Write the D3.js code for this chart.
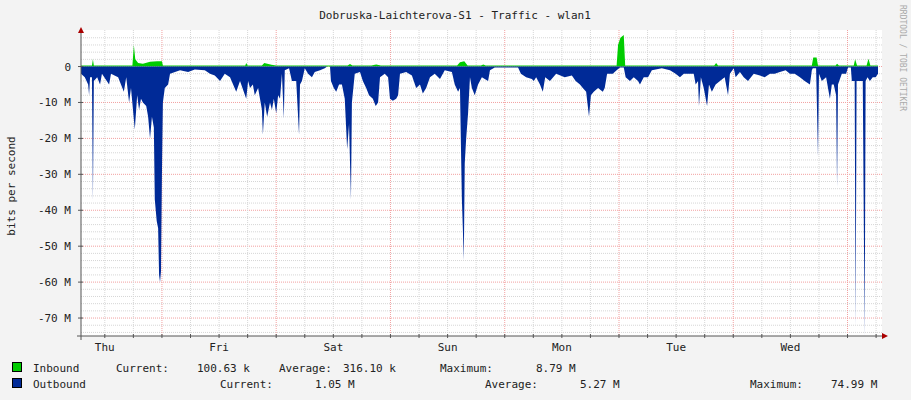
<!DOCTYPE html>
<html><head><meta charset="utf-8">
<script src="https://cdn.jsdelivr.net/npm/d3@7"></script>
<style>body{margin:0;background:#f3f3f3}text{font-family:"DejaVu Sans Mono",monospace}</style>
</head><body><svg id="c" width="911" height="400"></svg>
<script>
// hours since Thu 07:00, Mbps
const outTimes = [0,0.8,1.5,1.7,1.9,2.3,2.5,2.7,3.4,4.0,4.4,5.9,6.3,7.8,9.0,9.5,10.1,10.5,11.3,11.8,12.2,12.6,13.0,13.7,14.1,14.5,14.9,15.3,15.5,15.9,16.2,16.4,16.6,16.8,17.0,17.2,17.6,18.3,18.7,20.8,22.5,23.9,26,27.1,28.1,29.2,30.2,31.3,32.6,33.4,34.7,35.1,35.5,36.1,36.5,37.2,38.0,38.2,38.6,39.1,39.7,40.1,40.5,41.0,41.4,41.8,42.2,42.6,42.8,43.7,44.3,45.2,45.8,46.0,46.4,47,47.7,48.5,49.1,50.2,51.2,51.7,52.3,52.5,53.1,53.6,54.2,54.8,55.4,55.9,56.3,56.7,56.9,57.5,58.6,59.2,59.9,60.5,61.3,61.9,62.4,62.8,63.8,64.5,64.9,65.5,66.2,66.6,67.0,68.3,69.5,70.4,71.2,71.8,72.5,73.3,74.3,75.4,76.4,77.9,78.5,79.2,79.6,79.8,80.0,80.2,80.4,80.6,80.9,81.3,81.7,82.1,82.7,83.4,84.2,85.5,85.9,86.9,91.8,92.4,93.5,94.7,95.1,95.6,96.4,97.0,97.5,98.5,99.8,101.6,103.1,103.9,104.8,105.4,106.1,106.7,107.1,107.7,108.6,109.6,110,110.5,111.7,112.5,113.2,114,114.4,115.3,116.1,117,117.4,118.2,119.1,119.9,122,123.7,124.9,125.8,126.6,127.9,128.7,129.1,129.6,129.8,130.2,130.8,131.5,131.9,132.5,133.3,134.2,135.2,135.9,136.3,137.1,137.5,138.4,139.2,140.1,141.3,142.6,143.6,144.7,145.7,146.8,148,148.9,149.9,151,152,153.1,153.5,153.7,154.4,154.8,155,155.6,156.5,157.3,157.7,158.1,158.6,158.8,159,159.8,160.7,161.1,161.7,161.9,162.5,162.7,162.9,163.6,164.2,164.6,164.8,165.2,165.7,166.3,166.9,167.4];
const outValues = [2,3,5,8,3,3,37.5,4,3,5,2,5,2,3,7,3,10,6,17.5,8,12,9,10,11,14,20,14,17,37,43,45,58,60,57,30,10,6,5,2,1,1.5,0.8,1,2,2.5,4,2,3,7,4,9,4,6,5,8,6,12,19,10,14,10,12,9,13,8,9,2,14.5,1,0.5,4,4,19,5,4,0.5,2,3,1.5,1,0.5,0,0,4,6,7,5,5,9,23,16,37,10,2,1.5,4,6,8,9,11,10,3,2,3,9,9.5,9,8,2,1.5,2.5,6,5,7.5,6,3,2,3.5,1,1.5,5,7,6,22,37,45,54,27,20,13,3,6,8,5,3,4,1,0.3,0.3,2,3,3.5,4,3,5,7,3,4,2,3,2.5,4,5,6,7,14,8,7,6,7,6,2,2,1,0.3,0.3,3,4,3,4,5,3,3,1,0.5,1,2,3,2,2,2,5,4,11,3,6,11,5,7,5,4,3,8,2,0.5,3,1.5,3,4,2,2.5,3,2,2,1.5,1,2,2,3,4,5,1,0.5,0.5,25,2,4,3,9,5,5,8,33.5,5,2,2,0.3,0.3,4,4,72,4,4,4,75,4,3,4,3,3,2];
const inTimes = [0,2.3,2.5,2.7,10.8,11.1,11.4,12,13,14.5,16,17,17.2,34.5,34.7,35,38,38.5,40,41,56,56.5,57,61,62,63,79,79.6,80.5,81.2,84,84.5,85,112.5,112.8,113.3,114,114.3,133,133.4,133.8,153.5,153.8,154.5,154.8,158.5,158.8,159.2,162.3,162.6,163,165,165.4,165.8,167.4];
const inValues = [0.3,0.3,2,0.3,0.3,6,2,1,0.8,1.3,1.5,1.5,0.3,0.3,1,0.3,0.3,1,0.5,0.3,0.3,0.7,0.3,0.3,0.6,0.3,0.3,1.2,1.5,0.3,0.3,0.6,0.3,0.3,6,8,8.8,0.3,0.3,1,0.3,0.3,2.5,2.5,0.3,0.3,0.8,0.3,0.3,2,0.3,0.3,2.2,0.3,0.3];
const dayLabels = ['Thu','Fri','Sat','Sun','Mon','Tue','Wed'];
const yTicks = [0,-10,-20,-30,-40,-50,-60,-70];
const legendRows = [
  {name:'Inbound', color:'#00cc00', cur:'100.63 k', avg:'316.10 k', max:'8.79 M'},
  {name:'Outbound', color:'#002a97', cur:'1.05 M', avg:'5.27 M', max:'74.99 M'}
];

const svg = d3.select('#c');
const L = 81, R = 878, T = 36, B = 336;
const x = d3.scaleLinear().domain([0, 167.4]).range([L, R]);
const y = d3.scaleLinear().domain([-75, 8.5]).range([B, T]);

svg.append('rect').attr('width', 911).attr('height', 400).attr('fill', '#f3f3f3');
svg.append('rect').attr('x', L).attr('y', T - 6).attr('width', R - L + 4).attr('height', B - T + 6).attr('fill', '#fff');

// horizontal grid
for (let v = -74; v <= 8; v += 2) {
  const major = v % 10 === 0;
  svg.append('line').attr('x1', L).attr('x2', R + 4).attr('y1', y(v)).attr('y2', y(v))
    .attr('stroke', major ? '#f2a0a0' : '#d6d6d6').attr('stroke-dasharray', '1,1');
}
// vertical grid every 6h, red at midnight
for (let h = 5; h < 167.4; h += 6) {
  const major = (h - 17) % 24 === 0;
  svg.append('line').attr('x1', x(h)).attr('x2', x(h)).attr('y1', T - 6).attr('y2', B)
    .attr('stroke', major ? '#f2a0a0' : '#d6d6d6').attr('stroke-dasharray', '1,1');
}

const inData = inTimes.map((t, i) => [t, inValues[i]]);
const outData = outTimes.map((t, i) => [t, outValues[i]]);

svg.append('path').datum(inData)
  .attr('d', d3.area().x(d => x(d[0])).y0(y(0)).y1(d => y(d[1])))
  .attr('fill', '#00cc00');
svg.append('path').datum(outData)
  .attr('d', d3.area().x(d => x(d[0])).y0(y(0)).y1(d => y(-d[1])))
  .attr('fill', '#002a97');

// axes
svg.append('line').attr('x1', L).attr('x2', L).attr('y1', 30).attr('y2', B + 4).attr('stroke', '#555');
svg.append('line').attr('x1', L - 4).attr('x2', R + 6).attr('y1', B).attr('y2', B).attr('stroke', '#555');
svg.append('path').attr('d', `M${L - 3},${33}L${L + 3},${33}L${L},${27}Z`).attr('fill', '#a00');
svg.append('path').attr('d', `M${R + 4},${B - 3}L${R + 4},${B + 3}L${R + 10},${B}Z`).attr('fill', '#a00');

yTicks.forEach(v => {
  svg.append('line').attr('x1', L - 3).attr('x2', L + 2).attr('y1', y(v)).attr('y2', y(v)).attr('stroke', '#555');
  svg.append('text').attr('x', 71).attr('y', y(v) + 4).attr('text-anchor', 'end')
    .attr('font-size', 11).attr('fill', '#222').attr('xml:space', 'preserve')
    .text(v === 0 ? '0' : `${v} M`.replace('-', '-'));
});
for (let h = 5; h < 167.4; h += 6) {
  svg.append('line').attr('x1', x(h)).attr('x2', x(h)).attr('y1', B - 2).attr('y2', B + 2).attr('stroke', '#555');
}
dayLabels.forEach((d, i) => {
  svg.append('text').attr('x', x(5 + 24 * i)).attr('y', 351).attr('text-anchor', 'middle')
    .attr('font-size', 11).attr('fill', '#222').text(d);
});

svg.append('text').attr('x', 455).attr('y', 19).attr('text-anchor', 'middle')
  .attr('font-size', 11).attr('fill', '#222').text('Dobruska-Laichterova-S1 - Traffic - wlan1');
svg.append('text').attr('transform', 'translate(15,186) rotate(-90)').attr('text-anchor', 'middle')
  .attr('font-size', 11).attr('fill', '#222').text('bits per second');
svg.append('text').attr('transform', 'translate(900,5) rotate(90)').attr('font-size', 8)
  .attr('fill', '#aaa').text('RRDTOOL / TOBI OETIKER');

// legend
const cols = [[116, 197, 279, 343, 440, 536], [220, 315, 485, 580, 750, 831]];
legendRows.forEach((r, i) => {
  const by = 372 + i * 16;
  svg.append('rect').attr('x', 12.5).attr('y', by - 9.5).attr('width', 9).attr('height', 9)
    .attr('fill', r.color).attr('stroke', '#000');
  svg.append('text').attr('x', 33).attr('y', by).attr('font-size', 11).attr('fill', '#222').text(r.name);
  const c = cols[i];
  const parts = ['Current:', r.cur, 'Average:', r.avg, 'Maximum:', r.max];
  parts.forEach((p, j) => {
    svg.append('text').attr('x', c[j]).attr('y', by).attr('font-size', 11).attr('fill', '#222').text(p);
  });
});
</script></body></html>
